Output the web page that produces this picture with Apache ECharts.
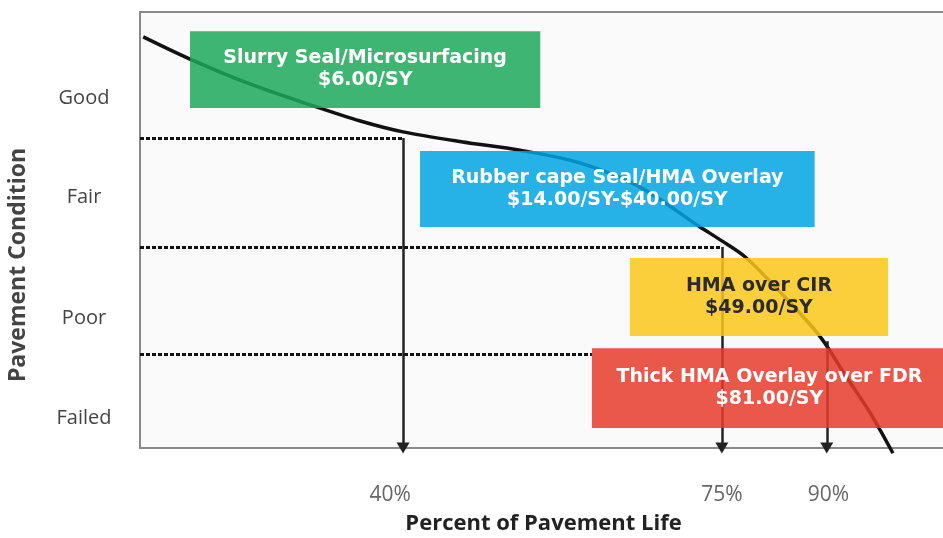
<!DOCTYPE html>
<html>
<head>
<meta charset="utf-8">
<script src="https://cdn.jsdelivr.net/npm/echarts@6/dist/echarts.min.js"></script>
<style>
html,body{margin:0;padding:0;background:#ffffff;}
#chart{width:943px;height:538px;}
</style>
</head>
<body>
<div id="chart"></div>
<script>
// Condition levels (y axis) and their label positions (chart units, 0-100 of plot height)
const conditionLevels = ['Good', 'Fair', 'Poor', 'Failed'];
const conditionLabelPos = [80.3, 57.6, 29.8, 6.7];

// Percent of pavement life labels and their positions (chart units along x, 0-100 of plot width)
const lifeLabels = ['40%', '75%', '90%'];
const lifeLabelPos = [31.0, 72.1, 85.3];

// Deterioration curve (x, y in chart units)
const curveX = [0.4, 6.2, 13.6, 21.1, 27.3, 32.6, 40.0, 47.1, 54.5, 61.9, 69.4, 72.1, 75.0, 79.3, 84.3, 87.6, 90.5, 93.3];
const curveY = [94.3, 89.2, 83.5, 78.7, 75.0, 72.5, 70.2, 68.3, 65.4, 59.9, 50.7, 47.5, 43.8, 35.8, 25.5, 16.1, 8.0, -1.2];

// Threshold dotted lines (condition boundary) and where they stop
const thresholdY = [71.1, 46.1, 21.6];
const thresholdEndX = [32.6, 72.1, 56.0];

// Vertical arrows at points of pavement life
const arrowX = [32.6, 72.1, 85.1];
const arrowTopY = [71.1, 46.1, 24.5];

// Treatment boxes
const treatments = ['Slurry Seal/Microsurfacing', 'Rubber cape Seal/HMA Overlay', 'HMA over CIR', 'Thick HMA Overlay over FDR'];
const costs = ['$6.00/SY', '$14.00/SY-$40.00/SY', '$49.00/SY', '$81.00/SY'];
const boxX0 = [6.2, 34.7, 60.7, 56.0];
const boxX1 = [49.6, 83.6, 92.7, 100];
const boxYTop = [95.6, 68.1, 43.6, 22.9];
const boxYBottom = [78.0, 50.7, 25.7, 4.6];
const boxColors = ['#1ca959', '#00a5e2', '#fac51a', '#e53b29'];
const boxTextColors = ['#ffffff', '#ffffff', '#2a2a2a', '#ffffff'];

const chart = echarts.init(document.getElementById('chart'), null, {renderer: 'canvas'});

const curveData = curveX.map((x, i) => [x, curveY[i]]);

const markLineData = [];
thresholdY.forEach((y, i) => {
  markLineData.push([
    {coord: [0, y], symbol: 'none', lineStyle: {type: [4, 2], width: 3, color: '#111'}},
    {coord: [thresholdEndX[i], y], symbol: 'none'}
  ]);
});
arrowX.forEach((x, i) => {
  markLineData.push([
    {coord: [x, arrowTopY[i]], symbol: 'none', lineStyle: {type: 'solid', width: 2.5, color: '#222'}},
    {coord: [x, 0], symbol: 'triangle', symbolSize: [13, 11]}
  ]);
});

const markAreaData = treatments.map((t, i) => [
  {
    name: t,
    coord: [boxX0[i], boxYTop[i]],
    itemStyle: {color: boxColors[i], opacity: 0.85},
    label: {
      show: true,
      position: 'inside',
      formatter: t + '\n' + costs[i],
      color: boxTextColors[i],
      fontFamily: 'DejaVu Sans',
      fontWeight: 'bold',
      fontSize: 19,
      lineHeight: 22,
      align: 'center'
    }
  },
  {coord: [boxX1[i], boxYBottom[i]]}
]);

const option = {
  animation: false,
  backgroundColor: '#ffffff',
  grid: {
    left: 140, top: 12, right: -4, bottom: 90,
    outerBoundsMode: 'none',
    containLabel: false,
    show: true, backgroundColor: '#fafafa', borderColor: '#8a8a8a', borderWidth: 2
  },
  xAxis: {
    type: 'value', min: 0, max: 100,
    name: 'Percent of Pavement Life',
    nameLocation: 'middle', nameGap: 65,
    nameTextStyle: {fontFamily: 'Open Sans', fontWeight: 'bold', fontSize: 22, color: '#222'},
    axisLine: {show: false}, axisTick: {show: false}, splitLine: {show: false},
    axisLabel: {
      customValues: lifeLabelPos,
      formatter: v => lifeLabels[lifeLabelPos.indexOf(v)],
      margin: 37, fontFamily: 'Open Sans', fontSize: 21, color: '#666'
    }
  },
  yAxis: {
    type: 'value', min: 0, max: 100,
    name: 'Pavement Condition',
    nameLocation: 'middle', nameGap: 110,
    nameTextStyle: {fontFamily: 'Open Sans', fontWeight: 'bold', fontSize: 23, color: '#444', padding: [0, 70, 0, 0]},
    axisLine: {show: false}, axisTick: {show: false}, splitLine: {show: false},
    axisLabel: {
      customValues: conditionLabelPos,
      formatter: v => conditionLevels[conditionLabelPos.indexOf(v)],
      margin: 56, align: 'center', fontFamily: 'Open Sans', fontSize: 20, color: '#444'
    }
  },
  series: [{
    type: 'line',
    data: curveData,
    smooth: 0.3,
    clip: false,
    showSymbol: false,
    z: 2,
    lineStyle: {color: '#111', width: 3.5},
    markLine: {
      silent: true, z: 3, animation: false,
      label: {show: false},
      data: markLineData
    },
    markArea: {
      silent: true, z: 4,
      data: markAreaData
    }
  }]
};
chart.setOption(option);
</script>
</body>
</html>
